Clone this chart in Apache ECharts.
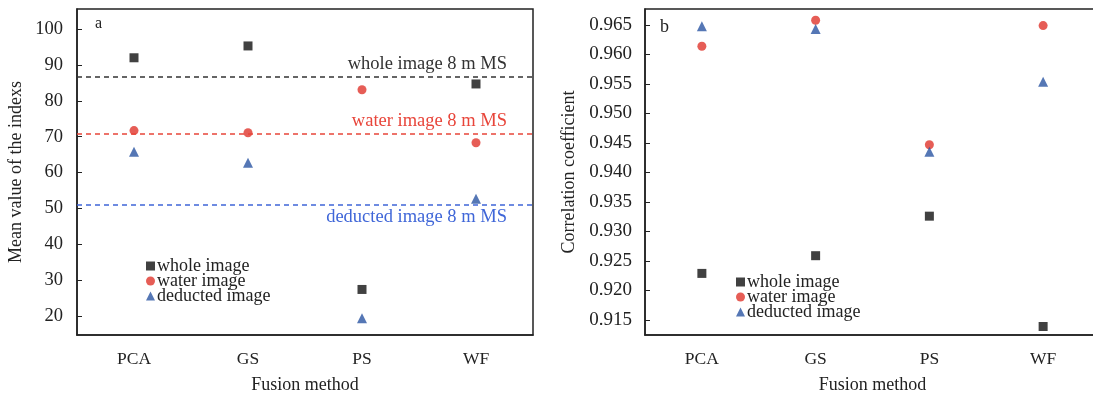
<!DOCTYPE html>
<html>
<head>
<meta charset="utf-8">
<script src="https://cdn.jsdelivr.net/npm/echarts@6/dist/echarts.min.js"></script>
<style>
html,body{margin:0;padding:0;background:#fff;}
#main{width:1093px;height:394px;}
</style>
</head>
<body>
<div id="main"></div>
<script>
// categories
var methods = ["PCA", "GS", "PS", "WF"];
// panel a: mean value of the indexes
var meanWhole = [92.0, 95.3, 27.4, 84.7];
var meanWater = [71.7, 71.1, 83.1, 68.3];
var meanDeducted = [65.8, 62.7, 19.4, 52.7];
// 8 m MS reference levels
var refWhole = 86.7, refWater = 70.9, refDeducted = 51.0;
// panel b: correlation coefficient
var corrWhole = [0.9229, 0.9259, 0.9326, 0.9139];
var corrWater = [0.9614, 0.9658, 0.9447, 0.9649];
var corrDeducted = [0.9648, 0.9643, 0.9435, 0.9554];
// tick labels
var ticksA = [20, 30, 40, 50, 60, 70, 80, 90, 100];
var ticksB = [0.915, 0.920, 0.925, 0.930, 0.935, 0.940, 0.945, 0.950, 0.955, 0.960, 0.965];

var FONT = "Liberation Serif";
var cBlack = "#111111", cRed = "#e0342c", cBlue = "#2a55a2";

var chart = echarts.init(document.getElementById("main"));

function xAx(idx) {
	return {
		type: "category", gridIndex: idx, data: methods,
		name: "Fusion method", nameLocation: "middle", nameGap: 41,
		nameTextStyle: {fontFamily: FONT, fontSize: 18, color: "#222"},
		axisLine: {lineStyle: {color: "#222", width: 1.5}},
		axisTick: {inside: true, alignWithLabel: true, length: 5, lineStyle: {color: "#222"}},
		axisLabel: {fontFamily: FONT, fontSize: 17.5, color: "#222", margin: 15},
		splitLine: {show: false}
	};
}
function mkLine(val, txt, color, pos) {
	return {
		yAxis: val,
		lineStyle: {color: color, type: [5, 4], width: 1.5},
		label: {show: true, formatter: txt, position: pos, color: color,
			fontFamily: FONT, fontSize: 18.5, distance: [26, 3]}
	};
}
function legendText() {
	return {fontFamily: FONT, fontSize: 18, color: "#222", padding: [0, 0, 0, -3], lineHeight: 15};
}

option = {
	animation: false,
	backgroundColor: "#fff",
	title: [
		{text: "a", left: 90, top: 11, textStyle: {fontFamily: FONT, fontSize: 16, fontWeight: "normal", color: "#222"}},
		{text: "b", left: 655, top: 13, textStyle: {fontFamily: FONT, fontSize: 18, fontWeight: "normal", color: "#222"}}
	],
	grid: [
		{left: 77, right: 560, top: 9, bottom: 59, show: true, borderColor: "#222", borderWidth: 1.5,
			containLabel: false, outerBoundsMode: "none"},
		{left: 645, width: 455, top: 9, bottom: 59, show: true, borderColor: "#222", borderWidth: 1.5,
			containLabel: false, outerBoundsMode: "none"}
	],
	legend: [
		{data: ["whole image", "water image", "deducted image"], orient: "vertical", left: 146, top: 257,
			itemGap: -3, itemWidth: 9, itemHeight: 9, padding: 0, textStyle: legendText()},
		{data: ["whole image ", "water image ", "deducted image "], orient: "vertical", left: 736, top: 273,
			itemGap: -3, itemWidth: 9, itemHeight: 9, padding: 0, textStyle: legendText()}
	],
	xAxis: [xAx(0), xAx(1)],
	yAxis: [
		{type: "value", gridIndex: 0, min: 14.7, max: 105.6,
			name: "Mean value of the indexs", nameLocation: "middle", nameGap: 52,
			nameTextStyle: {fontFamily: FONT, fontSize: 18, color: "#222"},
			axisLine: {show: true, lineStyle: {color: "#222", width: 1.5}},
			axisTick: {show: true, inside: true, length: 5, customValues: ticksA, lineStyle: {color: "#222"}},
			axisLabel: {fontFamily: FONT, fontSize: 18.5, color: "#222", margin: 14, customValues: ticksA},
			splitLine: {show: false}},
		{type: "value", gridIndex: 1, min: 0.91246, max: 0.96771,
			name: "Correlation coefficient", nameLocation: "middle", nameGap: 67,
			nameTextStyle: {fontFamily: FONT, fontSize: 18, color: "#222"},
			axisLine: {show: true, lineStyle: {color: "#222", width: 1.5}},
			axisTick: {show: true, inside: true, length: 5, customValues: ticksB, lineStyle: {color: "#222"}},
			axisLabel: {fontFamily: FONT, fontSize: 19, color: "#222", margin: 13, customValues: ticksB,
				formatter: function (v) { return v.toFixed(3); }},
			splitLine: {show: false}}
	],
	series: [
		{name: "whole image", type: "scatter", xAxisIndex: 0, yAxisIndex: 0, data: meanWhole,
			symbol: "rect", symbolSize: 9, itemStyle: {color: cBlack}, z: 3,
			markLine: {silent: true, symbol: "none", data: [mkLine(refWhole, "whole image 8 m MS", "#333", "insideEndTop")]}},
		{name: "water image", type: "scatter", xAxisIndex: 0, yAxisIndex: 0, data: meanWater,
			symbol: "circle", symbolSize: 9, itemStyle: {color: cRed}, z: 3,
			markLine: {silent: true, symbol: "none", data: [mkLine(refWater, "water image 8 m MS", "#e8453a", "insideEndTop")]}},
		{name: "deducted image", type: "scatter", xAxisIndex: 0, yAxisIndex: 0, data: meanDeducted,
			symbol: "triangle", symbolSize: 10, itemStyle: {color: cBlue}, z: 3,
			markLine: {silent: true, symbol: "none", data: [mkLine(refDeducted, "deducted image 8 m MS", "#3f66d8", "insideEndBottom")]}},
		{name: "whole image ", type: "scatter", xAxisIndex: 1, yAxisIndex: 1, data: corrWhole,
			symbol: "rect", symbolSize: 9, itemStyle: {color: cBlack}},
		{name: "water image ", type: "scatter", xAxisIndex: 1, yAxisIndex: 1, data: corrWater,
			symbol: "circle", symbolSize: 9, itemStyle: {color: cRed}},
		{name: "deducted image ", type: "scatter", xAxisIndex: 1, yAxisIndex: 1, data: corrDeducted,
			symbol: "triangle", symbolSize: 10, itemStyle: {color: cBlue}}
	]
};
chart.setOption(option);
</script>
</body>
</html>
